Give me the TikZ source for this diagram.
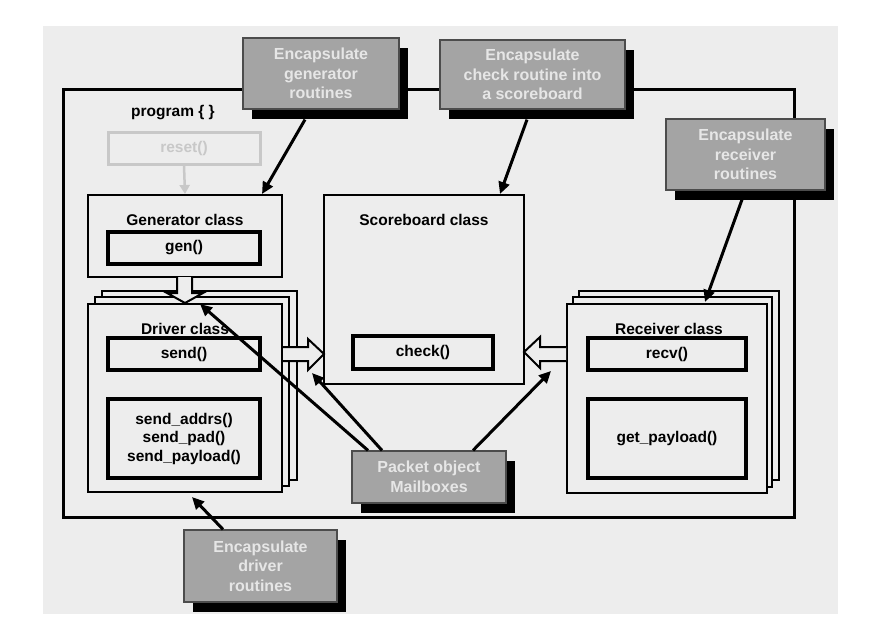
\documentclass[tikz,border=0pt]{standalone}
\usepackage{fontspec}
\setmainfont{Liberation Sans}
\usetikzlibrary{arrows.meta,shadows}
\definecolor{bg}{HTML}{EDEDED}
\definecolor{encfill}{HTML}{A4A4A4}
\definecolor{enctext}{HTML}{E6E6E6}
\definecolor{faint}{HTML}{C8C8C8}
\begin{document}
\begin{tikzpicture}[x=1pt,y=-1pt,
  every node/.style={font=\fontsize{15.5}{18.5}\selectfont\bfseries, inner sep=0pt, align=center},
  cls/.style={draw=black, line width=2pt, fill=bg},
  meth/.style={draw=black, line width=4pt, fill=bg},
  enc/.style={draw=black!70, line width=1.2pt, fill=encfill, text=enctext,
    general shadow={fill=black, shadow xshift=9pt, shadow yshift=-10pt},
    font=\fontsize{16}{19.5}\selectfont\bfseries},
  arr/.style={line width=3pt, -{Triangle[length=12pt,width=11pt]}},
  hollow/.style={draw=black, line width=2pt, fill=bg, line join=miter},
]
% background
\fill[white] (0,0) rectangle (869,642);
\fill[bg] (43,26) rectangle (838,614);
% program frame
\draw[line width=3pt] (63,89) rectangle (794,517);
\node (prog) at (173,113) {program \{ \}};
% reset
\node[draw=faint, line width=3pt, text=faint, minimum width=152pt, minimum height=32pt] (reset) at (184,148) {reset()};
% generator
\node[cls, minimum width=194pt, minimum height=82pt] (genCls) at (185,236) {};
\node (genT) at (185,220) {Generator class};
\node[meth, minimum width=152pt, minimum height=32pt] (gen) at (184,248) {gen()};
\draw[faint, line width=2.5pt, -{Triangle[length=9pt,width=10pt]}] (reset.south) -- (genCls.north);
% driver stack
\node[cls, minimum width=195pt, minimum height=189pt] (drvB) at (199.5,385.5) {};
\node[cls, minimum width=194pt, minimum height=189pt] (drvM) at (192,391.5) {};
\node[cls, minimum width=194pt, minimum height=188pt] (drv) at (185,398) {};
\node (drvT) at (185,329) {Driver class};
\node[meth, minimum width=152pt, minimum height=32pt] (send) at (184,354) {send()};
\node[meth, minimum width=152pt, minimum height=79pt] (sendx) at (184,438.5) {send\_addrs()\\send\_pad()\\send\_payload()};
% scoreboard
\node[cls, minimum width=200pt, minimum height=189pt] (sb) at (424,289.5) {};
\node (sbT) at (424,220) {Scoreboard class};
\node[meth, minimum width=140pt, minimum height=33pt] (check) at (423,352.5) {check()};
% receiver stack
\node[cls, minimum width=200pt, minimum height=189pt] (rcvB) at (679,385.5) {};
\node[cls, minimum width=199pt, minimum height=190pt] (rcvM) at (672.5,392) {};
\node[cls, minimum width=200pt, minimum height=189pt] (rcv) at (667,398.5) {};
\node (rcvT) at (669,329) {Receiver class};
\node[meth, minimum width=158pt, minimum height=32pt] (recv) at (667,354) {recv()};
\node[meth, minimum width=158pt, minimum height=79pt] (getp) at (667,438.5) {get\_payload()};
% hollow arrows
\draw[hollow] (177,277) -- (177,293) -- (167,293) -- (185,303) -- (203,293) -- (192,293) -- (192,277);
\draw[hollow] (283,347) -- (308,347) -- (308,339) -- (324,354) -- (308,370) -- (308,361) -- (283,361);
\draw[hollow] (566,347) -- (540,347) -- (540,337) -- (524,352) -- (540,368) -- (540,361) -- (566,361);
% encapsulate boxes
\node[enc, minimum width=156pt, minimum height=71pt] (genEnc) at (321,73.5) {Encapsulate\\generator\\routines};
\node[enc, minimum width=185pt, minimum height=69pt] (chkEnc) at (532.5,74.5) {Encapsulate\\check routine into\\a scoreboard};
\node[enc, minimum width=159pt, minimum height=71pt] (rcvEnc) at (745.5,154.5) {Encapsulate\\receiver\\routines};
\node[enc, minimum width=154pt, minimum height=52pt] (pktEnc) at (429,477) {Packet object\\Mailboxes};
\node[enc, minimum width=153pt, minimum height=72pt] (drvEnc) at (260.5,566) {Encapsulate\\driver\\routines};
% black arrows
\draw[arr] ([xshift=-16pt,yshift=-10pt]genEnc.south) -- ([xshift=77pt]genCls.north);
\draw[arr] ([xshift=-5.5pt,yshift=-10pt]chkEnc.south) -- ([xshift=76pt]sb.north);
\draw[arr] ([xshift=-3.5pt,yshift=-9pt]rcvEnc.south) -- ([xshift=38pt,yshift=1pt]rcv.north);
\draw[arr] ([xshift=-61pt]pktEnc.north) -- ([xshift=15pt,yshift=-1pt]drv.north);
\draw[arr] ([xshift=-47pt]pktEnc.north) -- ([xshift=-11pt,yshift=12pt]sb.south west);
\draw[arr] ([xshift=44pt]pktEnc.north) -- ([xshift=26pt,yshift=14pt]sb.south east);
\draw[arr] ([xshift=-37.5pt]drvEnc.north) -- ([xshift=7pt,yshift=-4pt]drv.south);
\end{tikzpicture}
\end{document}
